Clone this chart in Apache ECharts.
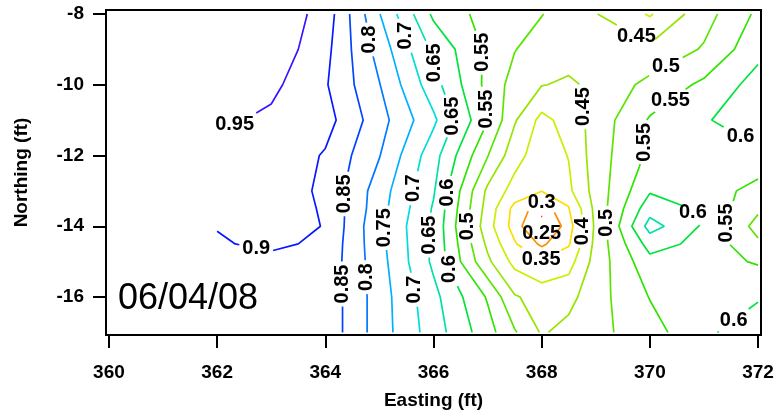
<!DOCTYPE html>
<html><head><meta charset="utf-8">
<script src="https://cdn.jsdelivr.net/npm/echarts@6/dist/echarts.min.js"></script>
<style>html,body{margin:0;padding:0;background:#fff}#c{width:779px;height:417px}</style>
</head><body><div id="c"></div>
<script>
// ---------------- data ----------------
const eastings = [362, 363, 364, 365, 366, 367, 367.5, 368, 368.5, 369, 370, 371, 372];
const northings = [-8, -9, -10, -11, -12, -13, -13.5, -14, -14.5, -15, -16, -17];
const values = [
  [1.00, 0.99, 0.93, 0.752, 0.59, 0.53, 0.515, 0.502, 0.475, 0.452, 0.395, 0.48, 0.56],
  [1.00, 0.985, 0.915, 0.78, 0.64, 0.54, 0.502, 0.475, 0.47, 0.47, 0.46, 0.505, 0.585],
  [0.99, 0.962, 0.905, 0.802, 0.67, 0.535, 0.48, 0.452, 0.443, 0.46, 0.515, 0.56, 0.62],
  [0.96, 0.94, 0.92, 0.82, 0.71, 0.552, 0.455, 0.385, 0.42, 0.47, 0.555, 0.595, 0.63],
  [0.93, 0.94, 0.895, 0.802, 0.67, 0.502, 0.42, 0.37, 0.402, 0.475, 0.56, 0.585, 0.59],
  [0.92, 0.93, 0.89, 0.775, 0.655, 0.44, 0.38, 0.352, 0.39, 0.47, 0.595, 0.58, 0.53],
  [0.91, 0.925, 0.895, 0.77, 0.645, 0.43, 0.335, 0.27, 0.345, 0.465, 0.63, 0.59, 0.51],
  [0.902, 0.92, 0.898, 0.76, 0.64, 0.42, 0.33, 0.22, 0.33, 0.46, 0.67, 0.595, 0.48],
  [0.895, 0.91, 0.89, 0.765, 0.64, 0.44, 0.355, 0.29, 0.345, 0.465, 0.62, 0.585, 0.51],
  [0.89, 0.885, 0.885, 0.77, 0.64, 0.46, 0.385, 0.355, 0.38, 0.47, 0.585, 0.57, 0.545],
  [0.88, 0.88, 0.885, 0.775, 0.665, 0.545, 0.455, 0.43, 0.435, 0.48, 0.552, 0.58, 0.595],
  [0.875, 0.88, 0.885, 0.775, 0.675, 0.57, 0.505, 0.445, 0.465, 0.485, 0.53, 0.59, 0.63]
];
const levels = [0.25, 0.3, 0.35, 0.4, 0.45, 0.5, 0.55, 0.6, 0.65, 0.7, 0.75, 0.8, 0.85, 0.9, 0.95];
const xTicks = [360, 362, 364, 366, 368, 370, 372];
const yTicks = [-16, -14, -12, -10, -8];
const dateText = '06/04/08';

// ---------------- styles ----------------
const levelColors = ['#ff2a00', '#ff8c00', '#ffdc00', '#c8ee00', '#96e400', '#5ae400', '#2ee400',
  '#00e23c', '#00e0a8', '#00dcdc', '#00b0ff', '#0078ff', '#0044ff', '#0818ff', '#3c14ff'];
// where along each contour piece (as a share of its length) its inline labels sit
const labelShares = {
  '0.25': [[0.5]], '0.3': [[0.0]], '0.35': [[0.5]], '0.4': [[], [0.32]],
  '0.45': [[0.42], [0.59]], '0.5': [[0.66], [0.21, 0.7], []],
  '0.55': [[0.12, 0.29], [0.32, 0.46], [0.5]], '0.6': [[0.57, 0.8], [0.84], [0.6], [0.25]],
  '0.65': [[0.16, 0.33, 0.70], []], '0.7': [[0.07, 0.56, 0.87]], '0.75': [[0.68]],
  '0.8': [[0.08, 0.83]], '0.85': [[0.57, 0.85]], '0.9': [[0.87]], '0.95': [[0.88]]
};
const labelSize = 20;

// ---------------- chart ----------------
const FONT = '"Liberation Sans", Arial, Helvetica, sans-serif';
const chart = echarts.init(document.getElementById('c'), null, {renderer: 'canvas'});
const axisText = {fontFamily: FONT, fontSize: 19, fontWeight: 'bold', color: '#000'};
chart.setOption({
  animation: false,
  backgroundColor: '#fff',
  grid: {left: 106, right: 18, top: 10, bottom: 82, show: true, borderColor: '#000', borderWidth: 2},
  xAxis: {
    type: 'value', min: 359.945, max: 372.055,
    name: 'Easting (ft)', nameLocation: 'middle', nameGap: 56, nameTextStyle: axisText,
    axisLine: {show: true, onZero: false, lineStyle: {color: '#000', width: 2}},
    axisTick: {show: true, length: 13, lineStyle: {color: '#000', width: 2}, customValues: xTicks},
    axisLabel: Object.assign({customValues: xTicks, margin: 28}, axisText),
    splitLine: {show: false}
  },
  yAxis: {
    type: 'value', min: -17.074, max: -7.887,
    name: 'Northing (ft)', nameLocation: 'middle', nameGap: 75, nameTextStyle: axisText,
    axisLine: {show: true, onZero: false, lineStyle: {color: '#000', width: 2}},
    axisTick: {show: true, length: 13, lineStyle: {color: '#000', width: 2}, customValues: yTicks},
    axisLabel: Object.assign({customValues: yTicks, margin: 22}, axisText),
    splitLine: {show: false}
  },
  graphic: [{type: 'text', x: 118, y: 299, z: 10, style: {text: dateText, fontFamily: FONT, fontSize: 36, fill: '#000', verticalAlign: 'middle', align: 'left'}}],
  series: []
});

// ---------------- marching squares ----------------
function contourChains(level) {
  const nx = eastings.length, ny = northings.length;
  const pts = {};
  const segs = [];
  function edgePoint(type, i, j) {
    const k = type + i + ',' + j;
    if (!pts[k]) {
      if (type === 'h') {
        const a = values[j][i], b = values[j][i + 1], t = (level - a) / (b - a);
        pts[k] = [eastings[i] + t * (eastings[i + 1] - eastings[i]), northings[j]];
      } else {
        const a = values[j][i], b = values[j + 1][i], t = (level - a) / (b - a);
        pts[k] = [eastings[i], northings[j] + t * (northings[j + 1] - northings[j])];
      }
    }
    return k;
  }
  for (let j = 0; j < ny - 1; j++) {
    for (let i = 0; i < nx - 1; i++) {
      const a = values[j][i], b = values[j][i + 1], c = values[j + 1][i + 1], d = values[j + 1][i];
      const A = a >= level, B = b >= level, C = c >= level, D = d >= level;
      const e0 = A !== B ? edgePoint('h', i, j) : null;
      const e1 = B !== C ? edgePoint('v', i + 1, j) : null;
      const e2 = D !== C ? edgePoint('h', i, j + 1) : null;
      const e3 = A !== D ? edgePoint('v', i, j) : null;
      const list = [e0, e1, e2, e3].filter(e => e !== null);
      if (list.length === 2) segs.push([list[0], list[1]]);
      else if (list.length === 4) {
        const centerUp = (a + b + c + d) / 4 >= level;
        const isoA = [e0, e3], isoB = [e0, e1], isoC = [e1, e2], isoD = [e2, e3];
        if (A) { if (centerUp) segs.push(isoB, isoD); else segs.push(isoA, isoC); }
        else { if (centerUp) segs.push(isoA, isoC); else segs.push(isoB, isoD); }
      }
    }
  }
  const adj = {};
  segs.forEach((s, idx) => { (adj[s[0]] = adj[s[0]] || []).push(idx); (adj[s[1]] = adj[s[1]] || []).push(idx); });
  const used = new Array(segs.length).fill(false);
  function walk(startKey, si) {
    const chain = [startKey];
    let cur = startKey;
    while (si !== undefined && !used[si]) {
      used[si] = true;
      const s = segs[si];
      const nxt = s[0] === cur ? s[1] : s[0];
      chain.push(nxt);
      cur = nxt;
      si = adj[cur].find(k => !used[k]);
    }
    return chain;
  }
  const chains = [];
  Object.keys(adj).forEach(k => {
    if (adj[k].length === 1 && !used[adj[k][0]]) chains.push({keys: walk(k, adj[k][0]), closed: false});
  });
  segs.forEach((s, idx) => { if (!used[idx]) chains.push({keys: walk(s[0], idx), closed: true}); });
  return chains.map(ch => {
    let p = ch.keys.map(k => pts[k].slice());
    if (!ch.closed) {
      const f = p[0], l = p[p.length - 1];
      if (l[1] > f[1] + 1e-9 || (Math.abs(l[1] - f[1]) < 1e-9 && l[0] < f[0])) p.reverse();
    } else {
      p.pop();
      let area = 0;
      for (let i = 0; i < p.length; i++) { const q = p[i], r = p[(i + 1) % p.length]; area += q[0] * r[1] - r[0] * q[1]; }
      if (area > 0) p.reverse();
      let top = 0;
      p.forEach((q, i) => { if (q[1] > p[top][1]) top = i; });
      p = p.slice(top).concat(p.slice(0, top));
      p.push(p[0].slice());
    }
    return {pts: p, closed: ch.closed};
  });
}

// ---------------- lines + labels ----------------
const toPx = p => chart.convertToPixel({xAxisIndex: 0, yAxisIndex: 0}, p);
const mctx = document.createElement('canvas').getContext('2d');
mctx.font = 'bold ' + labelSize + 'px "Liberation Sans"';
const capH = labelSize * 0.72;

function arc(px) { const s = [0]; for (let i = 1; i < px.length; i++) s.push(s[i - 1] + Math.hypot(px[i][0] - px[i - 1][0], px[i][1] - px[i - 1][1])); return s; }
function at(pts, s, t) {
  if (t <= 0) return pts[0].slice();
  if (t >= s[s.length - 1]) return pts[pts.length - 1].slice();
  let i = 0; while (i < s.length - 2 && s[i + 1] < t) i++;
  const f = (t - s[i]) / ((s[i + 1] - s[i]) || 1);
  return [pts[i][0] + f * (pts[i + 1][0] - pts[i][0]), pts[i][1] + f * (pts[i + 1][1] - pts[i][1])];
}
function sub(pts, s, a, b) {
  const out = [at(pts, s, a)];
  for (let i = 0; i < pts.length; i++) if (s[i] > a && s[i] < b) out.push(pts[i]);
  out.push(at(pts, s, b));
  return out;
}

const series = [];
const labelData = [];
levels.forEach((lv, li) => {
  const color = levelColors[li];
  const text = String(lv);
  const tw = mctx.measureText(text).width;
  const shares = labelShares[text] || [];
  contourChains(lv).forEach((ch, ci) => {
    const pts = ch.pts;
    const px = pts.map(toPx);
    const s = arc(px);
    const L = s[s.length - 1];
    const cuts = [];
    (shares[ci] || []).forEach(f => {
      let t = f * L;
      if (ch.closed) t = ((t % L) + L) % L; else t = Math.min(Math.max(t, 10), L - 10);
      const tA = ch.closed ? ((t - 8) + L) % L : Math.max(0, t - 8);
      const tB = ch.closed ? (t + 8) % L : Math.min(L, t + 8);
      const pA = toPx(at(pts, s, tA)), pB = toPx(at(pts, s, tB));
      let ux = pB[0] - pA[0], uy = pB[1] - pA[1];
      const nn = Math.hypot(ux, uy) || 1; ux /= nn; uy /= nn;
      const ang = Math.atan2(Math.abs(uy), Math.abs(ux)) * 180 / Math.PI;
      const rot = ang > 55 ? 90 : 0;
      const hx = rot ? capH / 2 + 4 : tw / 2 + 3;
      const hy = rot ? tw / 2 + 3 : capH / 2 + 4;
      const g = Math.min(Math.abs(ux) > 1e-6 ? hx / Math.abs(ux) : 1e9, Math.abs(uy) > 1e-6 ? hy / Math.abs(uy) : 1e9);
      labelData.push({name: text, value: at(pts, s, t), label: {rotate: rot}});
      cuts.push([t - g, t + g]);
    });
    let pieces = [];
    if (!cuts.length) pieces = [pts];
    else if (!ch.closed) {
      cuts.sort((a, b) => a[0] - b[0]);
      let from = 0;
      cuts.forEach(cu => { if (cu[0] > from) pieces.push(sub(pts, s, from, cu[0])); from = Math.max(from, cu[1]); });
      if (from < L) pieces.push(sub(pts, s, from, L));
    } else {
      const cu = cuts[0];
      const a = cu[1], b = cu[0] + L;
      if (b - a > 1) {
        if (a >= 0 && b <= L) pieces.push(sub(pts, s, a, b));
        else if (b > L) pieces.push(sub(pts, s, a, L).concat(sub(pts, s, 0, b - L)));
        else pieces.push(sub(pts, s, a + L, L).concat(sub(pts, s, 0, b)));
      }
    }
    pieces.forEach(pc => {
      if (pc.length < 2) return;
      series.push({type: 'line', data: pc, showSymbol: false, symbol: 'none', silent: true, z: 3,
        lineStyle: {color: color, width: 1.7}, emphasis: {disabled: true}, animation: false});
    });
  });
});
series.push({type: 'scatter', data: labelData, symbolSize: 1, silent: true, z: 5,
  emphasis: {disabled: true},
  itemStyle: {color: 'rgba(255,255,255,0)'},
  label: {show: true, position: 'inside', formatter: '{b}', color: '#000', opacity: 1,
    textBorderWidth: 0, textShadowBlur: 0, fontFamily: FONT, fontSize: labelSize, fontWeight: 'bold'}});
chart.setOption({series: series});
</script>
</body></html>
